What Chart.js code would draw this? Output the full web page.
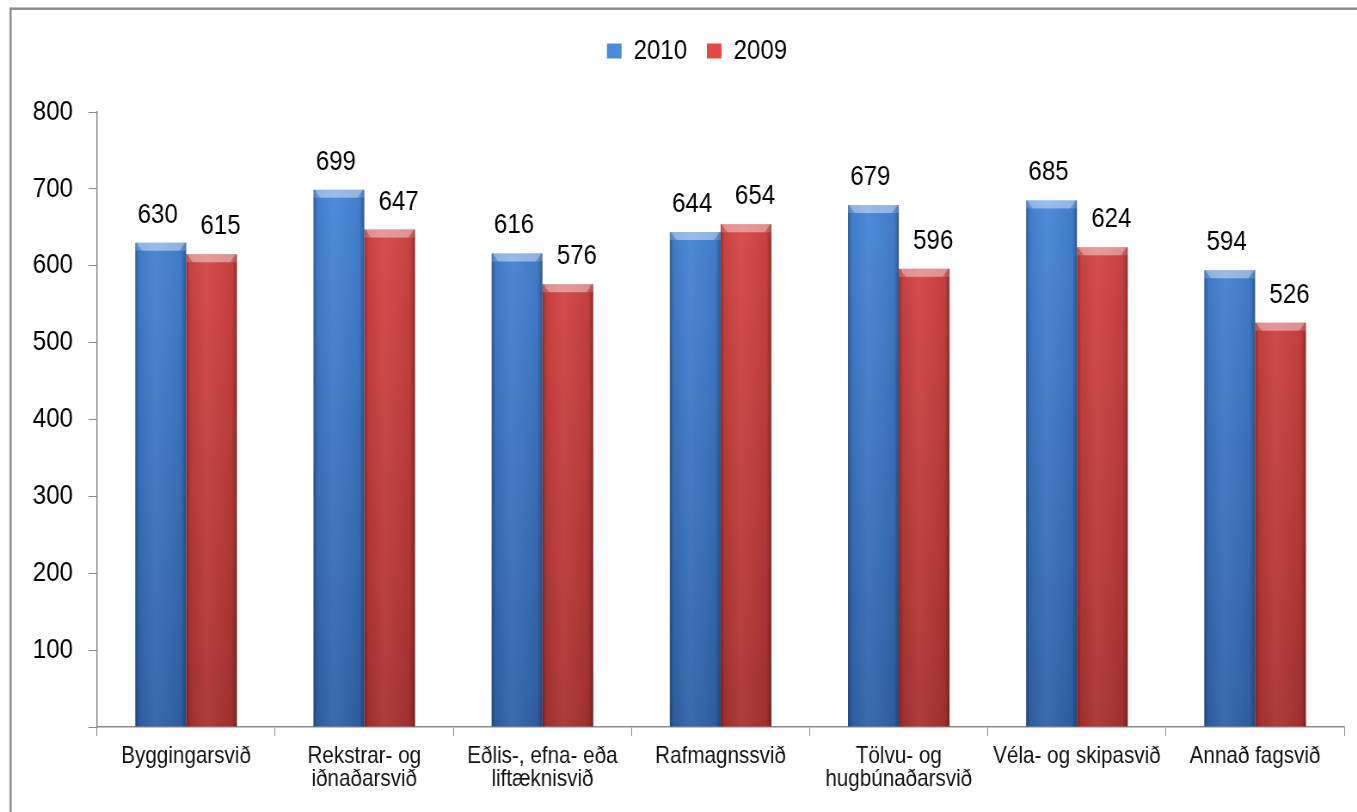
<!DOCTYPE html>
<html>
<head>
<meta charset="utf-8">
<script src="https://cdn.jsdelivr.net/npm/chart.js@4.4.1/dist/chart.umd.min.js"></script>
<style>
  html, body { margin: 0; padding: 0; background: #fff; overflow: hidden; }
  /* the source picture is squeezed sideways, so the chart is drawn wider and scaled back */
  #wrap { width: 1578px; height: 812px; transform: scaleX(0.86); transform-origin: 0 0; }
</style>
</head>
<body>
<div id="wrap"><canvas id="chart" width="1578" height="812"></canvas></div>
<script>
// data
const categories = [
    'Byggingarsvið',
    ['Rekstrar- og', 'iðnaðarsvið'],
    ['Eðlis-, efna- eða', 'liftæknisvið'],
    'Rafmagnssvið',
    ['Tölvu- og', 'hugbúnaðarsvið'],
    'Véla- og skipasvið',
    'Annað fagsvið'
];
const values2010 = [630, 699, 616, 644, 679, 685, 594];
const values2009 = [615, 647, 576, 654, 596, 624, 526];
const yTicks = [0, 100, 200, 300, 400, 500, 600, 700, 800];

const FONT = '"Liberation Sans", Arial, sans-serif';
Chart.defaults.font.family = FONT;
Chart.defaults.color = '#000';

// vertical gradient for the bars, lighter at the top
function barFill(top, bottom) {
    return (c) => {
        const area = c.chart.chartArea;
        if (!area) return top;
        const g = c.chart.ctx.createLinearGradient(0, area.top, 0, area.bottom);
        g.addColorStop(0, top);
        g.addColorStop(1, bottom);
        return g;
    };
}

// frame around the whole chart
const frame = {
    id: 'frame',
    beforeDraw(chart) {
        const ctx = chart.ctx;
        ctx.save();
        ctx.strokeStyle = '#8c8c8c';
        ctx.lineWidth = 2.5;
        ctx.strokeRect(12.3, 8.7, chart.width + 40, chart.height + 40);
        ctx.restore();
    }
};

// extra room under the legend, and legend nudged right a little
const legendGap = {
    id: 'legendGap',
    beforeInit(chart) {
        const legend = chart.legend;
        if (!legend) return;
        const fit = legend.fit;
        legend.fit = function () {
            fit.call(this);
            this.height += 37;
        };
    },
    afterLayout(chart) {
        if (!chart.legend) return;
        chart.legend.left += 29;
        chart.legend.right += 29;
    }
};

// side shading and top bevel on every bar
const barShade = {
    id: 'barShade',
    afterDatasetDraw(chart, args) {
        const ctx = chart.ctx;
        ctx.save();
        args.meta.data.forEach(bar => {
            const { x, y, base, width } = bar.getProps(['x', 'y', 'base', 'width'], true);
            const left = x - width / 2;
            const g = ctx.createLinearGradient(left, 0, left + width, 0);
            g.addColorStop(0, 'rgba(0,0,0,0.3)');
            g.addColorStop(0.08, 'rgba(0,0,0,0.06)');
            g.addColorStop(0.4, 'rgba(255,255,255,0.05)');
            g.addColorStop(0.9, 'rgba(0,0,0,0.06)');
            g.addColorStop(1, 'rgba(0,0,0,0.32)');
            ctx.fillStyle = g;
            ctx.fillRect(left, y, width, base - y);

            const b = 8;
            ctx.fillStyle = 'rgba(255,255,255,0.18)';
            ctx.fillRect(left, y, width, b);
            ctx.beginPath();
            ctx.moveTo(left + 1, y);
            ctx.lineTo(left + width - 1, y);
            ctx.lineTo(left + width - b, y + b);
            ctx.lineTo(left + b, y + b);
            ctx.closePath();
            ctx.fillStyle = 'rgba(255,255,255,0.3)';
            ctx.fill();
        });
        ctx.restore();
    }
};

// value labels above the bars
const labelShift = [-3.5, 10.5];
const valueLabels = {
    id: 'valueLabels',
    afterDatasetsDraw(chart) {
        const ctx = chart.ctx;
        ctx.save();
        ctx.font = '28px ' + FONT;
        ctx.fillStyle = '#000';
        ctx.textAlign = 'center';
        ctx.textBaseline = 'alphabetic';
        chart.data.datasets.forEach((ds, di) => {
            chart.getDatasetMeta(di).data.forEach((bar, i) => {
                ctx.fillText(ds.data[i], bar.x + labelShift[di], bar.y - 20);
            });
        });
        ctx.restore();
    }
};

new Chart(document.getElementById('chart'), {
    type: 'bar',
    data: {
        labels: categories,
        datasets: [{
            label: '2010',
            data: values2010,
            backgroundColor: barFill('#4a8be0', '#3162a8'),
            borderWidth: 0,
            barPercentage: 1.0,
            categoryPercentage: 0.57
        }, {
            label: '2009',
            data: values2009,
            backgroundColor: barFill('#e04a4a', '#a93232'),
            borderWidth: 0,
            barPercentage: 1.0,
            categoryPercentage: 0.57
        }]
    },
    options: {
        responsive: false,
        animation: false,
        layout: { padding: { top: 14, left: 0, right: 15, bottom: 0 } },
        plugins: {
            legend: {
                position: 'top',
                labels: {
                    font: { size: 28 },
                    boxWidth: 17,
                    boxHeight: 15,
                    padding: 23,
                    color: '#000'
                }
            },
            tooltip: { enabled: false }
        },
        scales: {
            x: {
                offset: true,
                grid: { offset: true, drawOnChartArea: false, tickLength: 9, color: '#8c8c8c' },
                border: { color: '#8c8c8c', width: 1.5 },
                ticks: {
                    font: { size: 24, lineHeight: 0.96 },
                    color: '#111',
                    padding: 9,
                    maxRotation: 0,
                    autoSkip: false
                },
                afterFit: s => { s.height = 85; }
            },
            y: {
                min: yTicks[0],
                max: yTicks[yTicks.length - 1],
                afterBuildTicks: s => { s.ticks = yTicks.map(v => ({ value: v })); },
                grid: { drawOnChartArea: false, tickLength: 10, color: '#8c8c8c' },
                border: { color: '#8c8c8c', width: 1.5 },
                ticks: {
                    font: { size: 28 },
                    color: '#000',
                    padding: 18,
                    callback: v => (v === 0 ? '' : v)
                },
                afterFit: s => { s.width = 112.8; }
            }
        }
    },
    plugins: [frame, legendGap, barShade, valueLabels]
});
</script>
</body>
</html>
